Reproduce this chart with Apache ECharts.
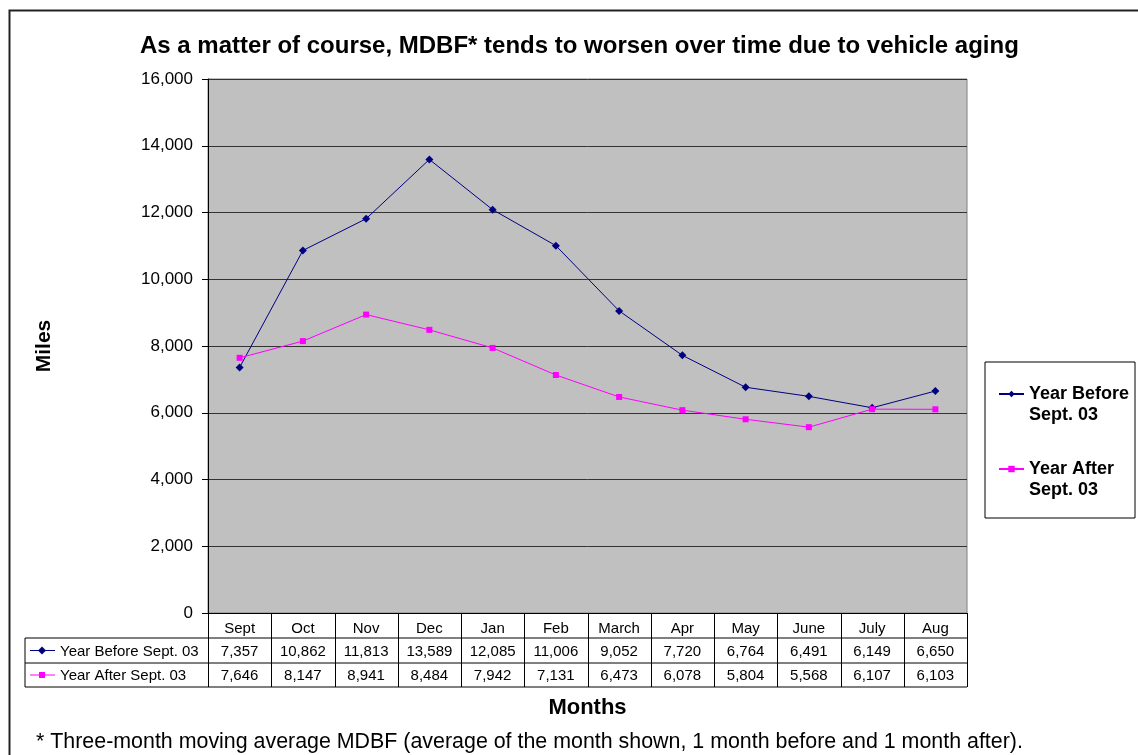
<!DOCTYPE html>
<html>
<head>
<meta charset="utf-8">
<script src="https://cdn.jsdelivr.net/npm/echarts@6/dist/echarts.min.js"></script>
<style>
  html, body { margin: 0; padding: 0; background: #fff; }
  #main { width: 1138px; height: 755px; }
</style>
</head>
<body>
<div id="main"></div>
<script>
// data
var months = ['Sept', 'Oct', 'Nov', 'Dec', 'Jan', 'Feb', 'March', 'Apr', 'May', 'June', 'July', 'Aug'];
var yearBefore = [7357, 10862, 11813, 13589, 12085, 11006, 9052, 7720, 6764, 6491, 6149, 6650];
var yearAfter = [7646, 8147, 8941, 8484, 7942, 7131, 6473, 6078, 5804, 5568, 6107, 6103];
var seriesNames = ['Year Before Sept. 03', 'Year After Sept. 03'];
var seriesColors = ['#000080', '#FF00FF'];
var seriesSymbols = ['diamond', 'rect'];

// layout
var gLeft = 208, gRight = 967, gTop = 79, gBottom = 613;
var cellW = (gRight - gLeft) / months.length;
var rowY = [613, 638, 663, 687];
var tableLeft = 25;

var chart = echarts.init(document.getElementById('main'));

function fmt(v) { return v.toLocaleString('en-US'); }

// data table under the axis
var graphic = [];
graphic.push({
    type: 'rect', left: 7, top: 8, silent: true,
    shape: { x: 0, y: 0, width: 1140, height: 760 },
    style: { fill: 'none', stroke: '#222', lineWidth: 2 }
});
// horizontal lines
for (var r = 1; r < rowY.length; r++) {
    graphic.push({ type: 'line', silent: true,
        shape: { x1: tableLeft, y1: rowY[r], x2: gRight, y2: rowY[r] },
        style: { stroke: '#000', lineWidth: 1 } });
}
// vertical lines
graphic.push({ type: 'line', silent: true,
    shape: { x1: tableLeft, y1: rowY[1], x2: tableLeft, y2: rowY[3] },
    style: { stroke: '#000', lineWidth: 1 } });
for (var c = 0; c <= months.length; c++) {
    var vx = Math.round(gLeft + c * cellW) + 0.5;
    graphic.push({ type: 'line', silent: true,
        shape: { x1: vx, y1: rowY[0], x2: vx, y2: rowY[3] },
        style: { stroke: '#000', lineWidth: 1 } });
}
// values
var rows = [yearBefore, yearAfter];
for (var i = 0; i < months.length; i++) {
    var cx = gLeft + (i + 0.5) * cellW;
    for (var k = 0; k < rows.length; k++) {
        graphic.push({ type: 'text', silent: true,
            x: cx, y: (rowY[k + 1] + rowY[k + 2]) / 2 + 1,
            style: { text: fmt(rows[k][i]), fill: '#000', font: '15px Arial, "Liberation Sans"',
                align: 'center', verticalAlign: 'middle' } });
    }
}
// row keys
for (var k = 0; k < rows.length; k++) {
    var ky = (rowY[k + 1] + rowY[k + 2]) / 2;
    graphic.push({ type: 'line', silent: true,
        shape: { x1: 30, y1: ky, x2: 55, y2: ky },
        style: { stroke: seriesColors[k], lineWidth: 1 } });
    if (k === 0) {
        graphic.push({ type: 'polygon', silent: true,
            shape: { points: [[42, ky - 4], [46, ky], [42, ky + 4], [38, ky]] },
            style: { fill: seriesColors[k] } });
    } else {
        graphic.push({ type: 'rect', silent: true,
            shape: { x: 39, y: ky - 3, width: 6, height: 6 },
            style: { fill: seriesColors[k] } });
    }
    graphic.push({ type: 'text', silent: true, x: 60, y: ky + 1,
        style: { text: seriesNames[k], fill: '#000', font: '15px Arial, "Liberation Sans"',
            verticalAlign: 'middle' } });
}
// legend box
graphic.push({ type: 'rect', silent: true,
    shape: { x: 985, y: 362, width: 150, height: 156 },
    style: { fill: '#fff', stroke: '#000', lineWidth: 1 }, z: -1 });
// footnote
graphic.push({ type: 'text', silent: true, x: 36, y: 742,
    style: { text: '* Three-month moving average MDBF (average of the month shown, 1 month before and 1 month after).',
        fill: '#000', font: '21.4px Arial, "Liberation Sans"', verticalAlign: 'middle' } });

var option = {
    animation: false,
    textStyle: { fontFamily: 'Arial, "Liberation Sans", sans-serif' },
    title: {
        text: 'As a matter of course, MDBF* tends to worsen over time due to vehicle aging',
        left: 135, top: 29,
        textStyle: { fontSize: 24, fontWeight: 'bold', color: '#000' }
    },
    grid: {
        left: gLeft, right: 1138 - gRight, top: gTop, bottom: 755 - gBottom,
        show: true, backgroundColor: '#C0C0C0', borderColor: '#808080', borderWidth: 1
    },
    legend: {
        orient: 'vertical', left: 993, top: 359,
        itemWidth: 25, itemHeight: 8, itemGap: 15,
        data: seriesNames,
        formatter: function (name) {
            var parts = name.split(' Sept');
            return '{gap| }\n{b|' + parts[0] + '}\n{b|Sept' + parts[1] + '}';
        },
        textStyle: {
            rich: {
                gap: { fontSize: 18, lineHeight: 21 },
                b: { fontSize: 18, fontWeight: 'bold', color: '#000', lineHeight: 21 }
            }
        }
    },
    xAxis: {
        type: 'category', data: months, boundaryGap: true,
        name: 'Months', nameLocation: 'middle', nameGap: 84,
        nameTextStyle: { fontSize: 22, fontWeight: 'bold', color: '#000' },
        axisLine: { lineStyle: { color: '#000' } },
        axisTick: { show: false },
        axisLabel: { fontSize: 15, color: '#000', margin: 8, interval: 0 }
    },
    yAxis: {
        type: 'value', min: 0, max: 16000, interval: 2000,
        name: 'Miles', nameLocation: 'middle', nameGap: 153,
        nameTextStyle: { fontSize: 21, fontWeight: 'bold', color: '#000' },
        axisLine: { show: true, lineStyle: { color: '#000' } },
        axisTick: { show: true, length: 6, lineStyle: { color: '#000' } },
        axisLabel: { fontSize: 17, color: '#000', margin: 15,
            formatter: function (v) { return fmt(v); } },
        splitLine: { lineStyle: { color: '#333', width: 1 } }
    },
    series: [
        {
            name: seriesNames[0], type: 'line', data: yearBefore,
            symbol: seriesSymbols[0], symbolSize: 8,
            itemStyle: { color: seriesColors[0] },
            lineStyle: { color: seriesColors[0], width: 1 }
        },
        {
            name: seriesNames[1], type: 'line', data: yearAfter,
            symbol: seriesSymbols[1], symbolSize: 6,
            itemStyle: { color: seriesColors[1] },
            lineStyle: { color: seriesColors[1], width: 1 }
        }
    ],
    graphic: graphic
};
chart.setOption(option);
</script>
</body>
</html>
